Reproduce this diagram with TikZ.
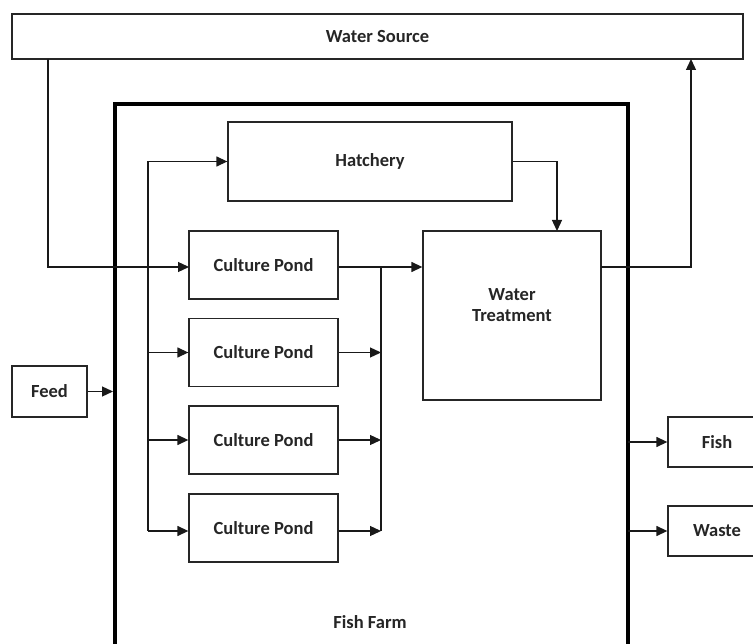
\documentclass[tikz,border=0pt]{standalone}
\usepackage{fontspec}
\setmainfont{Carlito}
\usetikzlibrary{arrows.meta}
\begin{document}
\begin{tikzpicture}[x=1pt,y=-1pt,
  every node/.style={font=\fontsize{18.5}{22}\selectfont\bfseries, text=black!85},
  blk/.style={draw=black!85, line width=1.3pt, rectangle, inner sep=0pt, align=center},
  ln/.style={draw=black!90, line width=1.3pt},
  arr/.style={ln, -{Triangle[length=11pt,width=10pt]}},
  farmline/.style={draw=black, line width=4pt}]
\clip (0,0) rectangle (753,644);
\fill[white] (0,0) rectangle (753,644);
% blocks
\node[blk, minimum width=731pt, minimum height=45pt] (ws) at (377.5,36.5) {Water Source};
\draw[farmline] (115,660) -- (115,104) -- (628,104) -- (628,660);
\node (farmlabel) at (370,622) {Fish Farm};
\node[blk, minimum width=284pt, minimum height=79pt] (hatch) at (370,161.5) {Hatchery};
\node[blk, minimum width=149pt, minimum height=68pt] (p1) at (263.5,265) {Culture Pond};
\node[blk, minimum width=149pt, minimum height=68pt] (p2) at (263.5,352.5) {Culture Pond};
\node[blk, minimum width=149pt, minimum height=68pt] (p3) at (263.5,440) {Culture Pond};
\node[blk, minimum width=149pt, minimum height=68pt] (p4) at (263.5,528) {Culture Pond};
\node[blk, minimum width=178pt, minimum height=169pt] (wt) at (512,315.5) {};
\node[align=center] (wtlabel) at (512,305) {Water\\[-1pt]Treatment};
\node[blk, minimum width=75pt, minimum height=51pt] (feed) at (49.5,391.5) {Feed};
\node[blk, minimum width=100pt, minimum height=50pt, text width=100pt] (fish) at (718,442) {Fish\hspace*{2pt}};
\node[blk, minimum width=100pt, minimum height=50pt, text width=100pt] (waste) at (718,531) {Waste\hspace*{2pt}};
% helper coordinates
\coordinate (wsout) at (48,59);
\coordinate (p1in) at (189,267);
\coordinate (bustop) at (148,161.5);
\coordinate (busbot) at (148,531);
\coordinate (colltop) at (381,267);
\coordinate (collbot) at (381,531);
\coordinate (wtin) at (557,231);
\coordinate (wtout) at (601,267);
\coordinate (wsin) at (691,59);
\coordinate (feedin) at (113,391.5);
\coordinate (farmR1) at (628,442);
\coordinate (farmR2) at (628,531);
% connectors
\draw[arr] (wsout) |- (p1in);
\draw[ln] (bustop) -- (busbot);
\draw[arr] (bustop) -- (hatch.west);
\draw[arr] (p2.west -| bustop) -- (p2.west);
\draw[arr] (p3.west -| bustop) -- (p3.west);
\draw[arr] (busbot) -- (busbot -| p4.west);
\draw[arr] (colltop -| p1.east) -- (colltop -| wt.west);
\draw[ln] (colltop) -- (collbot);
\draw[arr] (p2.east) -- (p2.east -| colltop);
\draw[arr] (p3.east) -- (p3.east -| colltop);
\draw[arr] (collbot -| p4.east) -- (collbot);
\draw[arr] (hatch.east) -| (wtin);
\draw[arr] (wtout) -| (wsin);
\draw[arr] (feed.east) -- (feedin);
\draw[arr] (farmR1) -- (fish.west);
\draw[arr] (farmR2) -- (waste.west);
\end{tikzpicture}
\end{document}
